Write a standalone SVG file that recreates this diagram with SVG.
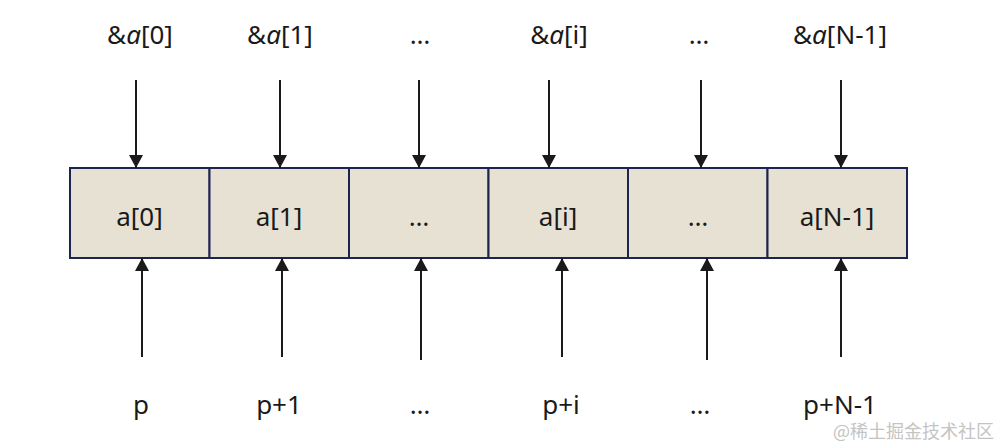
<svg xmlns="http://www.w3.org/2000/svg" width="1000" height="447" viewBox="0 0 1000 447">
<style>
.lbl{font-family:"Noto Sans","Open Sans","DejaVu Sans",sans-serif;font-size:26px;fill:#1a1a1a;text-anchor:middle}
.cell{fill:#e7e1d3;stroke:#1c2450;stroke-width:2}
.arr{stroke:#1a1a1a;stroke-width:2;fill:none;marker-end:url(#ah)}
.wm{font-family:"Noto Sans CJK SC","Noto Sans",sans-serif;font-size:18px;fill:#c4c4c4}
</style>
<defs>
<marker id="ah" markerUnits="userSpaceOnUse" markerWidth="14" markerHeight="14" viewBox="0 0 14 14" refX="13" refY="7" orient="auto">
<path d="M0,0 L13,7 L0,14 Z" fill="#1a1a1a"/>
</marker>
</defs>
<g id="top-labels">
<text class="lbl" x="140" y="44">&amp;<tspan font-style="italic">a</tspan>[0]</text>
<text class="lbl" x="280" y="44">&amp;<tspan font-style="italic">a</tspan>[1]</text>
<text class="lbl" x="420" y="44">…</text>
<text class="lbl" x="559" y="44">&amp;<tspan font-style="italic">a</tspan>[i]</text>
<text class="lbl" x="699" y="44">…</text>
<text class="lbl" x="840" y="44">&amp;<tspan font-style="italic">a</tspan>[N-1]</text>
</g>
<g id="cell0"><rect class="cell" x="70" y="168" width="139.5" height="90"/><text class="lbl" x="139.5" y="226">a[0]</text></g>
<g id="cell1"><rect class="cell" x="209.5" y="168" width="139.5" height="90"/><text class="lbl" x="279" y="226">a[1]</text></g>
<g id="cell2"><rect class="cell" x="349" y="168" width="139.5" height="90"/><text class="lbl" x="419" y="226">…</text></g>
<g id="cell3"><rect class="cell" x="488.5" y="168" width="139.5" height="90"/><text class="lbl" x="558" y="226">a[i]</text></g>
<g id="cell4"><rect class="cell" x="628" y="168" width="139.5" height="90"/><text class="lbl" x="698" y="226">…</text></g>
<g id="cell5"><rect class="cell" x="767.5" y="168" width="139.5" height="90"/><text class="lbl" x="837" y="226">a[N-1]</text></g>
<g id="connectors">
<line class="arr" x1="136" y1="80" x2="136" y2="168"/>
<line class="arr" x1="280" y1="80" x2="280" y2="168"/>
<line class="arr" x1="419" y1="80" x2="419" y2="168"/>
<line class="arr" x1="549" y1="80" x2="549" y2="168"/>
<line class="arr" x1="701" y1="80" x2="701" y2="168"/>
<line class="arr" x1="841" y1="80" x2="841" y2="168"/>
<line class="arr" x1="142" y1="357" x2="142" y2="258"/>
<line class="arr" x1="282" y1="357" x2="282" y2="258"/>
<line class="arr" x1="421" y1="360" x2="421" y2="258"/>
<line class="arr" x1="562" y1="357" x2="562" y2="258"/>
<line class="arr" x1="707" y1="360" x2="707" y2="258"/>
<line class="arr" x1="841" y1="357" x2="841" y2="258"/>
</g>
<g id="bottom-labels">
<text class="lbl" x="141" y="414">p</text>
<text class="lbl" x="279" y="414">p+1</text>
<text class="lbl" x="420" y="414">…</text>
<text class="lbl" x="561" y="414">p+i</text>
<text class="lbl" x="700" y="414">…</text>
<text class="lbl" x="840" y="414">p+N-1</text>
</g>
<text class="wm" x="833" y="438">@稀土掘金技术社区</text>
</svg>
